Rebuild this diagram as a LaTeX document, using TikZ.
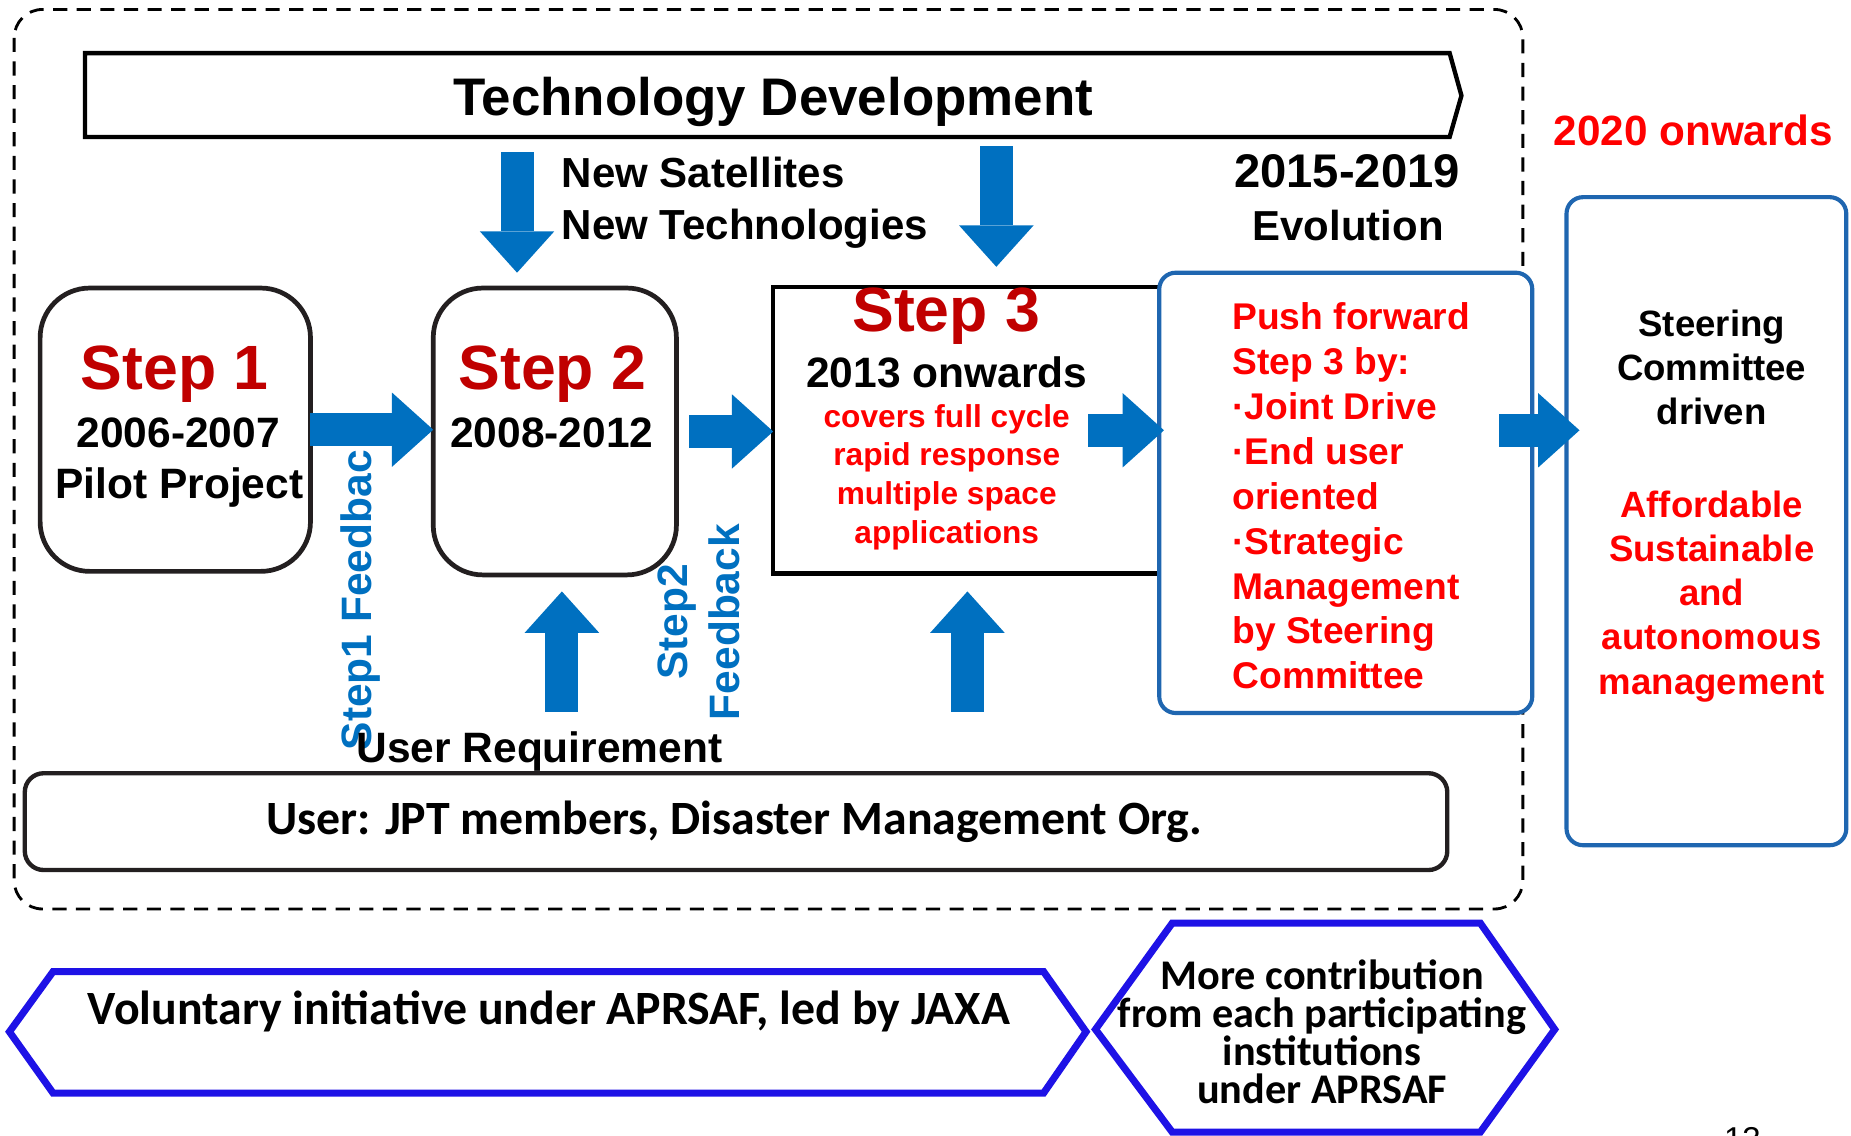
\documentclass[tikz,border=0pt]{standalone}
\usepackage{fontspec}
\setmainfont{Liberation Sans}
\newfontfamily\calibrifont{Carlito}
\usepackage{xcolor}
\usetikzlibrary{arrows.meta,positioning}

\definecolor{flowblue}{HTML}{0070C0}
\definecolor{stepred}{HTML}{C00000}
\definecolor{boxblue}{HTML}{1F66B0}
\definecolor{hexblue}{HTML}{1E12E6}
\definecolor{edgegray}{HTML}{231F20}
\newcommand{\sz}[2]{\fontsize{#1}{#2}\selectfont}

\begin{document}
\begin{tikzpicture}[
  x=1pt, y=-1pt,
  every node/.style={inner sep=0pt, outer sep=0pt},
  frame/.style={dash pattern=on 12pt off 8pt, line width=2.4pt, rounded corners=24pt},
  techline/.style={draw=black, line width=3.7pt, line join=miter},
  stepbox/.style={draw=edgegray, line width=4pt, rounded corners=42pt},
  plainbox/.style={draw=black, line width=3.8pt},
  bluebox/.style={draw=boxblue, line width=3.5pt, rounded corners=14pt, fill=white},
  userbox/.style={draw=edgegray, line width=3.7pt, rounded corners=16pt},
  hexline/.style={draw=hexblue, line width=6pt},
  fat/.style={draw=flowblue, line width=28pt,
    -{Triangle[length=35pt, width=63pt, line width=0pt]}},
  title/.style={font=\bfseries\sz{44.8}{50}},
  steplbl/.style={font=\bfseries\sz{53}{60}, text=stepred},
  yearlbl/.style={font=\bfseries\sz{36}{40}},
  redlist/.style={font=\bfseries\sz{31.5}{38}, text=red, align=left},
  cycle/.style={font=\bfseries\sz{26.8}{32.7}, text=red, align=center},
  fbtext/.style={font=\bfseries\sz{36}{44}, text=flowblue, align=center, rotate=90},
  calib/.style={font=\calibrifont\bfseries\sz{#1}{32}, align=center}
]
\useasboundingbox (0,0) rectangle (1568,962);

% outer frame and the technology banner
\draw[frame] (12,8) rectangle (1290,770);
\draw[techline] (72,45) -- (1228,45) -- (1238,81) -- (1228,116) -- (72,116) -- cycle;
\node[title, anchor=base] (tech) at (655,97.5) {Technology Development};

% multi-line labels sit on the baseline of their last line
\node[font=\bfseries\sz{35.6}{44}, align=left, anchor=base west] (newsat) at (476,203)
  {New Satellites\\New Technologies};
\node[font=\bfseries\sz{40}{40}, anchor=base] (evoyears) at (1141,159) {2015-2019};
\node[font=\bfseries\sz{35.5}{40}, anchor=base] (evo) at (1142,204) {Evolution};
\node[font=\bfseries\sz{35.8}{40}, text=red, anchor=base] (later) at (1434.5,123) {2020 onwards};

% step boxes
\node[stepbox, minimum width=229pt, minimum height=240pt] (step1) at (148.5,364) {};
\node[stepbox, minimum width=206pt, minimum height=243pt] (step2) at (470,365.5) {};
\node[plainbox, minimum width=345pt, minimum height=243pt] (step3) at (827.5,364.5) {};
\node[bluebox, minimum width=316pt, minimum height=373pt] (push) at (1140,417.5) {};
\node[bluebox, minimum width=237pt, minimum height=549pt] (steer) at (1445.5,441.5) {};
\node[userbox, minimum width=1205pt, minimum height=82pt] (user) at (623.5,696) {};

\node[steplbl, anchor=base] (s1title) at (148,330) {Step 1};
\node[yearlbl, anchor=base] (s1years) at (151,379) {2006-2007};
\node[yearlbl, anchor=base] (s1pilot) at (152,422) {Pilot Project};
\node[steplbl, anchor=base] (s2title) at (468,330) {Step 2};
\node[yearlbl, anchor=base] (s2years) at (467.5,379) {2008-2012};
\node[steplbl, anchor=base] (s3title) at (801.5,281) {Step 3};
\node[yearlbl, anchor=base] (s3years) at (802,328) {2013 onwards};
\node[cycle, anchor=base] (s3text) at (802,460)
  {covers full cycle\\rapid response\\multiple space\\applications};

\node[redlist, anchor=base west] (pushtext) at (1044,583.5)
  {Push forward\\Step 3 by:\\·Joint Drive\\·End user\\oriented\\·Strategic\\Management\\by Steering\\Committee};
\node[font=\bfseries\sz{31}{37.4}, align=center, anchor=base] (steertext) at (1450,360)
  {Steering\\Committee\\driven};
\node[font=\bfseries\sz{31}{37.5}, text=red, align=center, anchor=base] (afford) at (1450,588)
  {Affordable\\Sustainable\\and\\autonomous\\management};

% feedback and requirement labels
\node[fbtext] (fb1) at (305.5,508.5) {Step1 Feedbac};
\node[fbtext] (fb2) at (592,527) {Step2\\Feedback};
\node[yearlbl, anchor=base] (req) at (457,646) {User Requirement};
\node[calib=40.5, anchor=base] (usertext) at (622,707)
  {User: JPT members, Disaster Management Org.};

% block arrows
\coordinate (satA) at (438,129);
\coordinate (satB) at (438,231);
\coordinate (evoA) at (844,124);
\coordinate (evoB) at (844,226);
\coordinate (reqA) at (476,603);
\coordinate (reqB) at (476,501);
\coordinate (reqC) at (819.5,603);
\coordinate (reqD) at (819.5,501);
\draw[fat] (satA) -- (satB);
\draw[fat] (evoA) -- (evoB);
\draw[fat] (reqA) -- (reqB);
\draw[fat] (reqC) -- (reqD);
\draw[fat] (step1.east) -- (step1.east -| step2.west);
\draw[fat] ([xshift=11pt]step2.east) -- (step2.east -| step3.west);
\draw[fat] ([xshift=-78pt]step3.east) -- ([xshift=4pt]push.west |- step3.east);
\draw[fat] ([xshift=-28pt]push.east |- step3.east) -- ([xshift=11pt]steer.west |- step3.east);

% APRSAF hexagons
\draw[hexline] (8,874) -- (45,823) -- (884,823) -- (920,874) -- (884,926) -- (45,926) -- cycle;
\draw[hexline] (928,872) -- (993,782) -- (1254,782) -- (1317,872) -- (1254,959) -- (993,959) -- cycle;
\node[calib=40.5, anchor=base] (aprsaf) at (465,868)
  {Voluntary initiative under APRSAF, led by JAXA};
\node[calib=35.8, anchor=base] (contrib) at (1120,934.6)
  {More contribution\\from each participating\\institutions\\under APRSAF};

\node[font=\sz{28}{28}, anchor=north] (pageno) at (1476,955) {13};
\end{tikzpicture}
\end{document}
